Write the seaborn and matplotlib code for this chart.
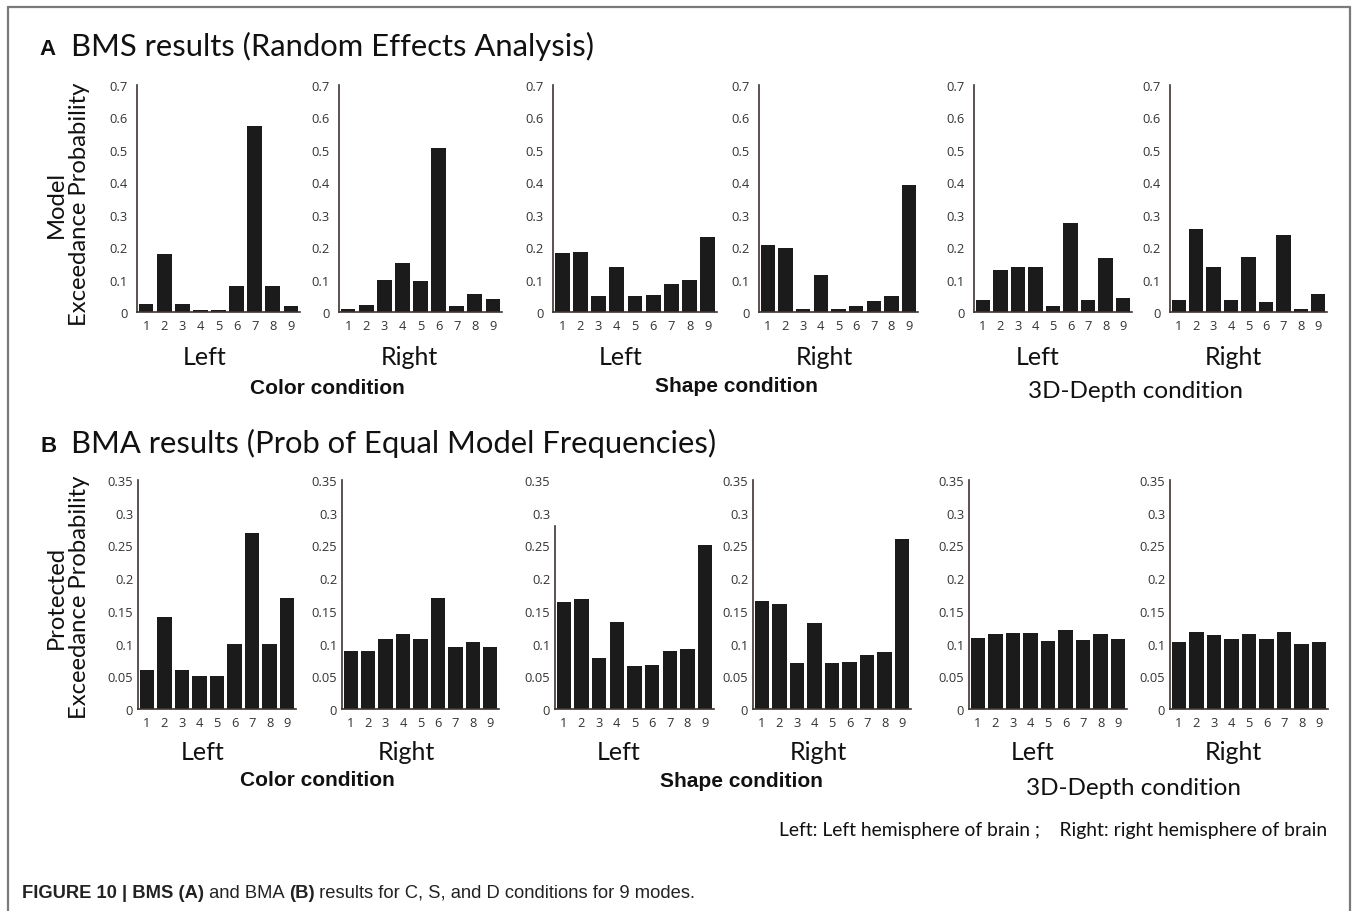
import matplotlib
matplotlib.use("Agg")
import matplotlib.pyplot as plt
from matplotlib.lines import Line2D
from matplotlib.ticker import FuncFormatter
import seaborn as sns

# Model indices shown on every x axis
models = [1, 2, 3, 4, 5, 6, 7, 8, 9]

# (A) BMS: model exceedance probability per condition / hemisphere
bms_color_left = [0.025, 0.18, 0.025, 0.005, 0.005, 0.08, 0.575, 0.08, 0.02]
bms_color_right = [0.01, 0.021, 0.099, 0.15, 0.095, 0.506, 0.02, 0.055, 0.041]
bms_shape_left = [0.182, 0.185, 0.049, 0.139, 0.049, 0.051, 0.085, 0.098, 0.231]
bms_shape_right = [0.208, 0.198, 0.01, 0.114, 0.01, 0.02, 0.034, 0.05, 0.391]
bms_depth_left = [0.038, 0.128, 0.138, 0.138, 0.017, 0.273, 0.038, 0.166, 0.043]
bms_depth_right = [0.037, 0.257, 0.138, 0.037, 0.171, 0.032, 0.236, 0.008, 0.056]

# (B) BMA: protected exceedance probability per condition / hemisphere
bma_color_left = [0.06, 0.14, 0.06, 0.05, 0.05, 0.10, 0.269, 0.10, 0.169]
bma_color_right = [0.088, 0.088, 0.1075, 0.115, 0.1075, 0.17, 0.095, 0.102, 0.095]
bma_shape_left = [0.164, 0.168, 0.078, 0.133, 0.066, 0.0675, 0.088, 0.092, 0.251]
bma_shape_right = [0.165, 0.160, 0.071, 0.132, 0.071, 0.0725, 0.082, 0.087, 0.260]
bma_depth_left = [0.1086, 0.115, 0.116, 0.116, 0.1045, 0.12, 0.1055, 0.115, 0.1065]
bma_depth_right = [0.103, 0.118, 0.1135, 0.1065, 0.115, 0.1065, 0.118, 0.100, 0.103]

bms_yticks = [0, 0.1, 0.2, 0.3, 0.4, 0.5, 0.6, 0.7]
bma_yticks = [0, 0.05, 0.1, 0.15, 0.2, 0.25, 0.3, 0.35]

hemispheres = ["Left", "Right"]
conditions = ["Color condition", "Shape condition", "3D-Depth condition"]

sns.set_theme(style="white")
plt.rcParams["font.family"] = ["Lato", "DejaVu Sans"]

W, H = 1357, 912
fig = plt.figure(figsize=(W / 100, H / 100), dpi=100)
fig.patch.set_facecolor("white")

BAR = "#1b1b1b"
SPINE = "#3d3530"
TICK = "#333333"
TICKFONT = "Open Sans"
GILL = "Lato"
ARIALB = "Liberation Sans"
INK = "#111111"


def px_axes(left, top, right, bottom):
    return fig.add_axes([left / W, 1 - bottom / H, (right - left) / W, (bottom - top) / H])


def fx(x):
    return x / W


def fy(y):
    return 1 - y / H


def draw_panel(ax, values, yticks, ytop, ypad, spine_top=None):
    sns.barplot(x=models, y=values, color=BAR, saturation=1, width=0.82,
                linewidth=0, ax=ax)
    ax.set_xlim(-0.5, 8.5)
    ax.set_ylim(0, ytop)
    ax.set_yticks(yticks)
    ax.yaxis.set_major_formatter(FuncFormatter(lambda v, p: "%g" % round(v, 3)))
    ax.set_xlabel("")
    ax.set_ylabel("")
    ax.set_facecolor("none")
    sns.despine(ax=ax)
    for s in ("left", "bottom"):
        ax.spines[s].set_color(SPINE)
        ax.spines[s].set_linewidth(1.2)
    if spine_top is not None:
        ax.spines["left"].set_bounds(0, spine_top)
    ax.tick_params(axis="y", length=0, pad=ypad, labelsize=9.3, labelcolor=TICK)
    ax.tick_params(axis="x", length=0, pad=5, labelsize=9.3, labelcolor=TICK)
    for lab in ax.get_xticklabels() + ax.get_yticklabels():
        lab.set_family(TICKFONT)


# ---- Panel A -------------------------------------------------------------
a_data = [bms_color_left, bms_color_right, bms_shape_left,
          bms_shape_right, bms_depth_left, bms_depth_right]
a_lr = [(137, 300), (339, 502), (553, 717), (759, 918), (974, 1132), (1170, 1327)]
for (l, r), vals in zip(a_lr, a_data):
    ax = px_axes(l, 86, r, 313)
    draw_panel(ax, vals, bms_yticks, 0.7, 6.5)

# ---- Panel B -------------------------------------------------------------
b_data = [bma_color_left, bma_color_right, bma_shape_left,
          bma_shape_right, bma_depth_left, bma_depth_right]
b_lr = [(138, 296), (342, 499), (555, 714), (753, 911), (969, 1127), (1170, 1328)]
for i, ((l, r), vals) in enumerate(zip(b_lr, b_data)):
    ax = px_axes(l, 481, r, 710)
    draw_panel(ax, vals, bma_yticks, 0.35, 3.5, spine_top=0.28 if i == 2 else None)

# ---- Titles ----------------------------------------------------------------
fig.text(fx(39), fy(55), "A", family=ARIALB, weight="bold", fontsize=16,
         color=INK, va="baseline")
fig.text(fx(71), fy(56), "BMS results (Random Effects Analysis)", family=GILL,
         fontsize=22.3, color=INK, va="baseline")
fig.text(fx(40), fy(452), "B", family=ARIALB, weight="bold", fontsize=16,
         color=INK, va="baseline")
fig.text(fx(71), fy(453), "BMA results (Prob of Equal Model Frequencies)", family=GILL,
         fontsize=22.3, color=INK, va="baseline")

# ---- y-axis titles -----------------------------------------------------------
fig.text(fx(68), fy(204), "Model\nExceedance Probability", family=GILL, fontsize=17.2,
         rotation=90, ha="center", va="center", linespacing=1.15, color=INK)
fig.text(fx(68), fy(597), "Protected\nExceedance Probability", family=GILL, fontsize=17.2,
         rotation=90, ha="center", va="center", linespacing=1.15, color=INK)

# ---- hemisphere labels -----------------------------------------------------
a_hemi_x = [205, 409, 621, 824, 1038, 1233]
b_hemi_x = [203, 406, 619, 818, 1033, 1233]
for i, x in enumerate(a_hemi_x):
    fig.text(fx(x), fy(365), hemispheres[i % 2], family=GILL, fontsize=18,
             ha="center", va="baseline", color=INK)
for i, x in enumerate(b_hemi_x):
    fig.text(fx(x), fy(760), hemispheres[i % 2], family=GILL, fontsize=18,
             ha="center", va="baseline", color=INK)

# ---- condition labels ------------------------------------------------------
cond_a = [(327, 394), (736, 392), (1136, 398)]
cond_b = [(317, 786), (741, 787), (1133, 795)]
for pos_list in (cond_a, cond_b):
    for j, (x, y) in enumerate(pos_list):
        if j < 2:
            fig.text(fx(x), fy(y), conditions[j], family=ARIALB, weight="bold",
                     fontsize=15, ha="center", va="baseline", color=INK)
        else:
            fig.text(fx(x), fy(y), conditions[j], family=GILL, fontsize=17.5,
                     ha="center", va="baseline", color=INK)

fig.text(fx(1327), fy(836),
         "Left: Left hemisphere of brain ;    Right: right hemisphere of brain",
         family=GILL, fontsize=13.9, ha="right", va="baseline", color=INK)

# ---- frame around the figure panels --------------------------------------
frame = dict(color="#7a7a7a", linewidth=1.6, transform=fig.transFigure)
fig.add_artist(Line2D([fx(7.5), fx(7.5)], [fy(8), 0], **frame))
fig.add_artist(Line2D([fx(7.5), fx(1350)], [fy(8), fy(8)], **frame))
fig.add_artist(Line2D([fx(1350), fx(1350)], [fy(8), 0], **frame))

# ---- caption with mixed weights ------------------------------------------
renderer = fig.canvas.get_renderer()
pieces = [("FIGURE 10 | BMS (A)", "bold"), (" and BMA ", "normal"),
          ("(B)", "bold"), (" results for C, S, and D conditions for 9 modes.", "normal")]
x = 22
for txt, w in pieces:
    t = fig.text(fx(x), fy(898), txt, family=ARIALB, weight=w, fontsize=13.2,
                 va="baseline", color="#222222")
    bb = t.get_window_extent(renderer)
    x = bb.x1

fig.savefig("out.png", dpi=100, facecolor="white")
